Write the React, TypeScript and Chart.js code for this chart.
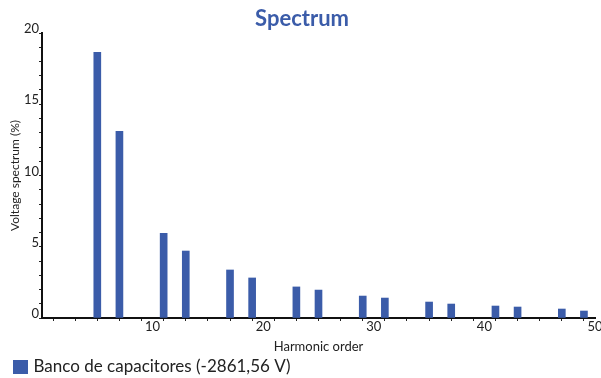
import React, { useEffect, useRef } from "react";
import { Chart, registerables } from "chart.js";

Chart.register(...registerables);

// Harmonic orders that carry a measurable voltage component
const harmonicOrders = [5, 7, 11, 13, 17, 19, 23, 25, 29, 31, 35, 37, 41, 43, 47, 49];
// Voltage spectrum per harmonic, in percent of the fundamental
const spectrumValues = [
  18.65, 13.1, 5.95, 4.7, 3.37, 2.81, 2.18, 1.96, 1.54, 1.4, 1.12, 0.98, 0.84, 0.77, 0.63, 0.49,
];
const seriesLabel = "Banco de capacitores (-2861,56 V)";
const xTickLabels = [10, 20, 30, 40, 50];
const yTickLabels = [0, 5, 10, 15, 20];

const BLUE = "#3b5ca9";
const INK = "#222222";
const FAMILY = "Lato, 'Open Sans', sans-serif";

export default function App() {
  const canvasRef = useRef<HTMLCanvasElement | null>(null);

  useEffect(() => {
    document.body.style.margin = "0";
    const canvas = canvasRef.current;
    if (!canvas) return;

    const chart = new Chart(canvas, {
      type: "bar",
      data: {
        datasets: [
          {
            label: seriesLabel,
            data: harmonicOrders.map((h, i) => ({ x: h, y: spectrumValues[i] })),
            backgroundColor: BLUE,
            borderWidth: 0,
            barThickness: 7,
          },
        ],
      },
      options: {
        responsive: false,
        animation: false,
        layout: { padding: { left: 9, right: 6, top: 0, bottom: -7.5 } },
        plugins: {
          title: {
            display: true,
            text: "Spectrum",
            color: BLUE,
            font: { family: FAMILY, size: 22, weight: "bold" },
            padding: { top: 6, bottom: 0.6 },
          },
          legend: {
            position: "bottom",
            align: "start",
            labels: {
              // a small filled square with a thick outline of the same colour,
              // so the swatch reads 15x14 while the text sits close to it
              boxWidth: 9,
              boxHeight: 8,
              padding: 7,
              color: INK,
              font: { family: FAMILY, size: 17 },
              generateLabels: (c: Chart) =>
                Chart.defaults.plugins.legend.labels.generateLabels(c).map((item: any) => ({
                  ...item,
                  fillStyle: BLUE,
                  strokeStyle: BLUE,
                  lineWidth: 6,
                  lineJoin: "miter",
                })),
            },
          },
          tooltip: { enabled: false },
        },
        scales: {
          x: {
            type: "linear",
            min: 0,
            max: 50,
            offset: false,
            z: 1,
            ticks: {
              stepSize: 2,
              autoSkip: false,
              maxRotation: 0,
              padding: -2,
              color: INK,
              font: { family: FAMILY, size: 13 },
              callback: (v: any) => (xTickLabels.includes(Number(v)) ? String(v) : ""),
            },
            grid: { drawOnChartArea: false, drawTicks: true, tickLength: 3, color: INK, lineWidth: 1 },
            border: { display: true, color: "#111111", width: 2 },
            title: {
              display: true,
              text: "Harmonic order",
              color: INK,
              font: { family: FAMILY, size: 13 },
              padding: { top: 0, bottom: -2.8 },
            },
            afterFit: (s: any) => {
              s.height = 33.5;
              s.paddingLeft = 0;
              s.paddingRight = 0;
            },
          },
          y: {
            type: "linear",
            min: 0,
            max: 20,
            z: 1,
            ticks: {
              stepSize: 1,
              autoSkip: false,
              padding: 0,
              labelOffset: -4,
              color: INK,
              font: { family: FAMILY, size: 13 },
              callback: (v: any) => (yTickLabels.includes(Number(v)) ? String(v) : ""),
            },
            grid: { drawOnChartArea: false, drawTicks: true, tickLength: 3, color: INK, lineWidth: 1 },
            border: { display: true, color: "#111111", width: 2 },
            title: {
              display: true,
              text: "Voltage spectrum (%)",
              color: INK,
              font: { family: FAMILY, size: 12 },
              padding: { top: -1.2, bottom: 0 },
            },
            afterFit: (s: any) => {
              s.width = 33;
              s.paddingTop = 0;
              s.paddingBottom = 0;
            },
          },
        },
      },
    });

    return () => chart.destroy();
  }, []);

  return (
    <div style={{ width: 601, height: 378, overflow: "hidden" }}>
      <canvas ref={canvasRef} width={601} height={378} style={{ display: "block" }} />
    </div>
  );
}
